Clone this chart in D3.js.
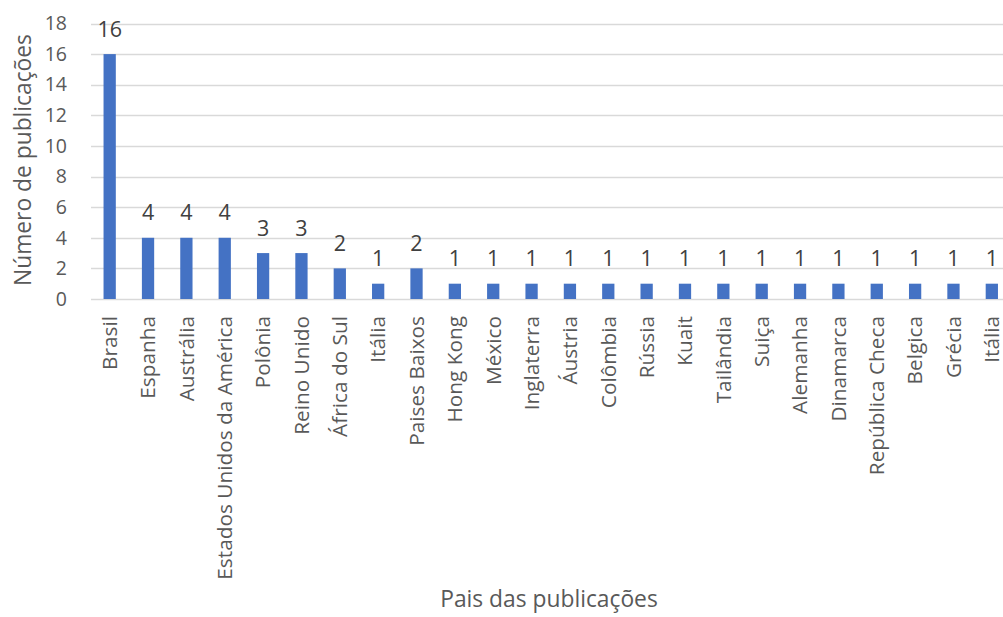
<!DOCTYPE html>
<html><head><meta charset="utf-8">
<script src="https://cdn.jsdelivr.net/npm/d3@7"></script>
<style>body{margin:0;background:#fff}svg{display:block}text{font-family:"Open Sans",sans-serif}</style>
</head><body><svg id="c" width="1003" height="617"></svg>
<script>
const categories = ["Brasil","Espanha","Austrália","Estados Unidos da América","Polônia","Reino Unido","África do Sul","Itália","Paises Baixos","Hong Kong","México","Inglaterra","Áustria","Colômbia","Rússia","Kuait","Tailândia","Suiça","Alemanha","Dinamarca","República Checa","Belgica","Grécia","Itália "];
const values = [16,4,4,4,3,3,2,1,2,1,1,1,1,1,1,1,1,1,1,1,1,1,1,1];
const yTicks = [0,2,4,6,8,10,12,14,16,18];
const yTitle = "Número de publicações";
const xTitle = "Pais das publicações";

const svg = d3.select("#c");
const x = d3.scaleBand().domain(categories).range([90.5, 1011]).paddingInner(0.68).paddingOuter(0.34);
const y = d3.scaleLinear().domain([0, 18]).range([299, 23.5]);

svg.append("g").selectAll("line").data(yTicks).join("line")
  .attr("x1", 91).attr("x2", 1003)
  .attr("y1", d => Math.round(y(d)) + 0.5).attr("y2", d => Math.round(y(d)) + 0.5)
  .attr("stroke", "#d9d9d9").attr("stroke-width", 1.3);

const yAxis = svg.append("g").attr("transform", "translate(67,0)")
  .call(d3.axisLeft(y).tickValues(yTicks).tickSize(0).tickPadding(0));
yAxis.select(".domain").remove();
yAxis.selectAll("text").attr("font-size", 19.5).attr("fill", "#595959").attr("font-family", "Open Sans");

svg.append("g").selectAll("rect").data(values).join("rect")
  .attr("x", (d, i) => x(categories[i])).attr("width", x.bandwidth())
  .attr("y", d => y(d)).attr("height", d => y(0) - y(d))
  .attr("fill", "#4472C4");

svg.append("g").selectAll("text").data(values).join("text")
  .attr("x", (d, i) => x(categories[i]) + x.bandwidth() / 2)
  .attr("y", d => y(d) - 17.5)
  .attr("text-anchor", "middle").attr("font-size", 21.5).attr("fill", "#404040")
  .text(d => d);

const xAxis = svg.append("g").attr("transform", "translate(0,299)")
  .call(d3.axisBottom(x).tickSize(0).tickPadding(0));
xAxis.select(".domain").remove();
xAxis.selectAll("text")
  .attr("font-size", 20.8).attr("fill", "#595959").attr("font-family", "Open Sans")
  .attr("transform", "rotate(-90)")
  .attr("text-anchor", "end").attr("dy", "0.35em").attr("x", -17).attr("y", 0);

svg.append("text").attr("transform", "translate(31,160) rotate(-90)")
  .attr("text-anchor", "middle").attr("font-size", 22.8).attr("fill", "#595959").text(yTitle);
svg.append("text").attr("x", 549).attr("y", 607)
  .attr("text-anchor", "middle").attr("font-size", 22.8).attr("fill", "#595959").text(xTitle);
</script></body></html>
